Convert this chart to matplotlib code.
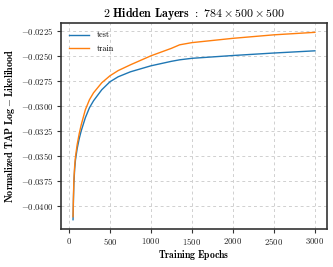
import numpy as np
import matplotlib
matplotlib.use("Agg")
import matplotlib.pyplot as plt

# Valeurs
epochs = [50, 55, 60, 70, 80, 100, 125, 150, 200, 250, 300, 400, 500, 600,
          750, 1000, 1100, 1250, 1350, 1500, 2000, 2500, 3000]
test_ll = [-0.0414, -0.0394, -0.0378, -0.0363, -0.0354, -0.0343, -0.0333,
           -0.0325, -0.0312, -0.0302, -0.0295, -0.0284, -0.0276, -0.0271,
           -0.0266, -0.0260, -0.02582, -0.02555, -0.0254, -0.02525, -0.02497,
           -0.02472, -0.0245]
train_ll = [-0.0411, -0.0391, -0.0375, -0.0360, -0.0351, -0.0339, -0.0328,
            -0.0319, -0.0304, -0.0294, -0.0287, -0.0277, -0.0270, -0.02648,
            -0.0259, -0.0250, -0.0247, -0.02425, -0.0239, -0.02368, -0.02325,
            -0.0229, -0.02265]
y_ticks = [-0.0400, -0.0375, -0.0350, -0.0325, -0.0300, -0.0275, -0.0250, -0.0225]
x_ticks = [0, 500, 1000, 1500, 2000, 2500, 3000]

plt.rcParams['font.family'] = 'serif'
plt.rcParams['font.serif'] = ['cmr10']
plt.rcParams['mathtext.fontset'] = 'cm'
plt.rcParams['axes.formatter.use_mathtext'] = True
plt.rcParams['axes.unicode_minus'] = True

fig = plt.figure(figsize=(3.33, 2.67), dpi=100)
ax = fig.add_axes([0.183, 0.142, 0.799, 0.772])

ax.plot(epochs, test_ll, color='#1f77b4', lw=1.0, label='test')
ax.plot(epochs, train_ll, color='#ff7f0e', lw=1.0, label='train')

ax.set_xticks(x_ticks)
ax.set_yticks(y_ticks)
ax.yaxis.set_major_formatter(matplotlib.ticker.FormatStrFormatter('$%.4f$'))
ax.grid(True, ls=(0, (3, 3)), color='#d0d0d0', lw=0.7)
ax.tick_params(labelsize=6.3, length=3, width=0.8, colors='#333333',
               labelcolor='#222222', pad=2)
for s in ax.spines.values():
    s.set_linewidth(1.2)
    s.set_color('#333333')

ax.set_title(r'$\mathbf{2\ Hidden\ Layers\ :\ 784 \times 500 \times 500}$',
             fontsize=8.6, pad=4)
ax.set_xlabel(r'$\mathbf{Training\ Epochs}$', fontsize=7, labelpad=1)
ax.set_ylabel(r'$\mathbf{Normalized\ TAP\ Log - Likelihood}$', fontsize=7.3,
              labelpad=3)
ax.legend(loc='upper left', fontsize=5.8, frameon=False, handlelength=2.5,
          handletextpad=0.9, labelspacing=0.6, borderaxespad=0.6)

fig.savefig('out.png', dpi=100)
